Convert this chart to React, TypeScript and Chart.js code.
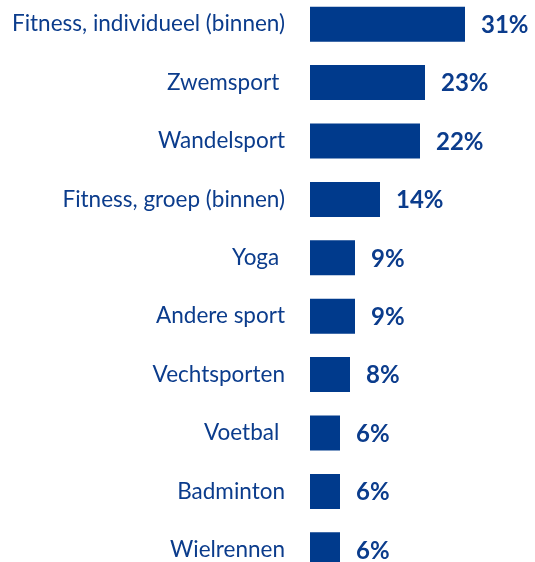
import React, { useEffect, useRef } from "react";
import { Chart, registerables } from "chart.js";

Chart.register(...registerables);

const categories = [
  "Fitness, individueel (binnen)",
  "Zwemsport ",
  "Wandelsport",
  "Fitness, groep (binnen)",
  "Yoga ",
  "Andere sport",
  "Vechtsporten",
  "Voetbal ",
  "Badminton",
  "Wielrennen",
];
const values = [31, 23, 22, 14, 9, 9, 8, 6, 6, 6];
const valueLabels = ["31%", "23%", "22%", "14%", "9%", "9%", "8%", "6%", "6%", "6%"];

const BAR = "#003A8C";
const TEXT = "#0B3C8C";

const valueLabelPlugin = {
  id: "valueLabels",
  afterDatasetsDraw(chart: any) {
    const ctx = chart.ctx;
    const meta = chart.getDatasetMeta(0);
    ctx.save();
    ctx.fillStyle = TEXT;
    ctx.font = "bold 24px Lato";
    ctx.textAlign = "left";
    ctx.textBaseline = "middle";
    meta.data.forEach((bar: any, i: number) => {
      ctx.fillText(valueLabels[i], bar.x + 16, bar.y + 1);
    });
    ctx.restore();
  },
};

export default function App() {
  const ref = useRef<HTMLCanvasElement | null>(null);
  useEffect(() => {
    if (!ref.current) return;
    const chart = new Chart(ref.current, {
      type: "bar",
      data: {
        labels: categories,
        datasets: [
          {
            data: values,
            backgroundColor: BAR,
            borderWidth: 0,
            barPercentage: 0.6,
            categoryPercentage: 1,
          },
        ],
      },
      options: {
        indexAxis: "y",
        animation: false,
        responsive: true,
        maintainAspectRatio: false,
        layout: { padding: 0 },
        plugins: {
          legend: { display: false },
          tooltip: { enabled: false },
        },
        scales: {
          x: { display: false, min: 0, max: 45 },
          y: {
            grid: { display: false, drawTicks: false },
            border: { display: false },
            ticks: {
              color: TEXT,
              font: { family: "Lato", size: 22.5 },
              padding: 25,
              autoSkip: false,
            },
            afterFit: (scale: any) => {
              scale.width = 310;
              scale.paddingTop = 0;
              scale.paddingBottom = 0;
            },
          },
        },
      },
      plugins: [valueLabelPlugin],
    });
    return () => chart.destroy();
  }, []);
  return (
    <div
      style={{
        position: "absolute",
        left: 0,
        top: -5,
        width: 535,
        height: 584,
        background: "#fff",
      }}
    >
      <canvas ref={ref} />
    </div>
  );
}
